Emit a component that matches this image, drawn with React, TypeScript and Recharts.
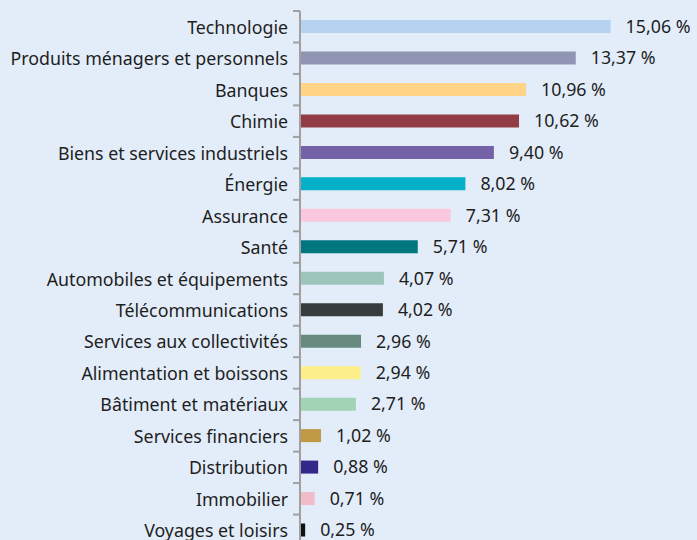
import { Bar, BarChart, Cell, LabelList, XAxis, YAxis } from 'recharts'

const categories = [
  'Technologie',
  'Produits ménagers et personnels',
  'Banques',
  'Chimie',
  'Biens et services industriels',
  'Énergie',
  'Assurance',
  'Santé',
  'Automobiles et équipements',
  'Télécommunications',
  'Services aux collectivités',
  'Alimentation et boissons',
  'Bâtiment et matériaux',
  'Services financiers',
  'Distribution',
  'Immobilier',
  'Voyages et loisirs',
]

const weights = [
  15.06, 13.37, 10.96, 10.62, 9.4, 8.02, 7.31, 5.71, 4.07, 4.02, 2.96, 2.94, 2.71, 1.02, 0.88,
  0.71, 0.25,
]

const colors = [
  '#b5d3f0',
  '#9195b4',
  '#ffd486',
  '#923d45',
  '#7462a8',
  '#06b0c9',
  '#f9c8df',
  '#00767e',
  '#9ec5bb',
  '#373d3d',
  '#668a7e',
  '#fcee88',
  '#a2d3b5',
  '#c09944',
  '#34278a',
  '#f0bcc8',
  '#111111',
]

const data = categories.map((name, i) => ({ name, value: weights[i] }))

const BG = '#e3edf9'
const TEXT = '#1e1e1e'
const AXIS = '#a0a0a0'
const FONT = '"Noto Sans", sans-serif'
const FS = 17.8

const fmt = (v: number) => `${v.toFixed(2).replace('.', ',')} %`

function CategoryTick(props: any) {
  const { x, y, payload, bandSize } = props
  const half = (bandSize ?? 31.4) / 2
  return (
    <g>
      <line x1={x + 5} x2={x + 12} y1={y - half} y2={y - half} stroke={AXIS} strokeWidth={2} />
      <text
        x={x}
        y={y}
        textAnchor="end"
        dominantBaseline="central"
        fill={TEXT}
        fontSize={FS}
        fontFamily={FONT}
      >
        {payload.value}
      </text>
    </g>
  )
}

export default function App() {
  return (
    <div
      style={{
        position: 'absolute',
        left: 0,
        top: 0,
        width: 697,
        height: 540,
        overflow: 'hidden',
        background: BG,
      }}
    >
      <BarChart
        width={697}
        height={546}
        data={data}
        layout="vertical"
        margin={{ top: 11, right: 67, left: 0, bottom: 0 }}
      >
        <XAxis type="number" domain={[0, 16]} hide />
        <YAxis
          type="category"
          dataKey="name"
          width={300}
          axisLine={{ stroke: AXIS, strokeWidth: 2 }}
          tickLine={false}
          tick={(p: any) => <CategoryTick {...p} x={288} bandSize={31.44} />}
          interval={0}
        />
        <Bar dataKey="value" barSize={13} isAnimationActive={false}>
          {data.map((_, i) => (
            <Cell key={i} fill={colors[i]} />
          ))}
          <LabelList
            dataKey="value"
            position="right"
            offset={15}
            formatter={(v: any) => fmt(Number(v))}
            style={{ fill: TEXT, fontSize: FS, fontFamily: FONT }}
          />
        </Bar>
      </BarChart>
    </div>
  )
}
